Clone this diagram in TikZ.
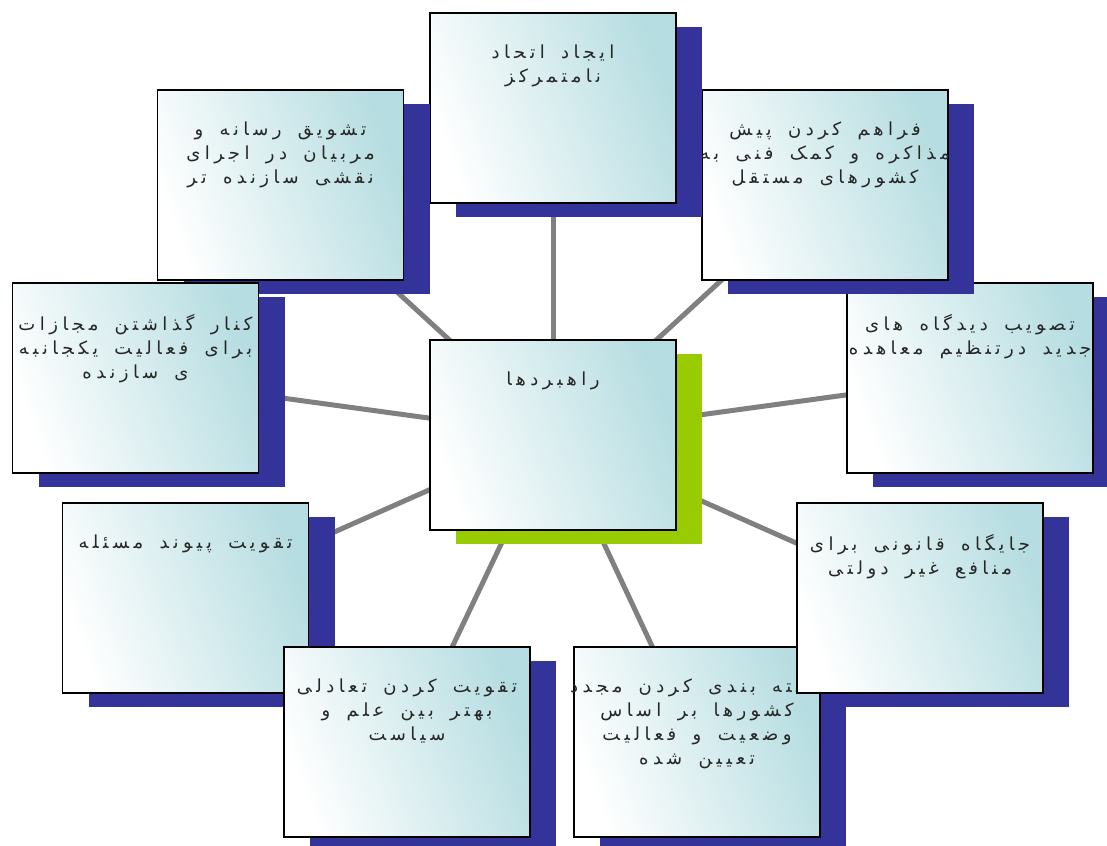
\documentclass[tikz,border=0pt]{standalone}
\usepackage{fontspec}
\newfontfamily\farsi[Script=Arabic,LetterSpace=25,WordSpace=1.6]{DejaVu Sans}
\TeXXeTstate=1
\usetikzlibrary{positioning,shadows,backgrounds}
\definecolor{shadowblue}{HTML}{333399}
\definecolor{shadowgreen}{HTML}{99CC00}
\definecolor{boxteal}{HTML}{B6DDE1}
\definecolor{linkgray}{HTML}{808080}
\newcommand{\fa}[1]{\beginR #1\endR}
\tikzstyle{cardbase} = [draw,line width=1.5pt,minimum width=246pt,minimum height=190pt,inner sep=0,top color=boxteal,bottom color=white,shading angle=-70]
\tikzstyle{card} = [cardbase,drop shadow={shadow xshift=26pt,shadow yshift=-14pt,fill=shadowblue,opacity=1}]
\tikzstyle{hub} = [cardbase,drop shadow={shadow xshift=26pt,shadow yshift=-14pt,fill=shadowgreen,opacity=1}]
\tikzstyle{caption} = [align=center,inner sep=0,text=black!85,font=\farsi\fontsize{18}{24}\selectfont]
\tikzstyle{link} = [linkgray,line width=5pt]

\begin{document}
\begin{tikzpicture}[x=1pt,y=-1pt]
    \useasboundingbox (0,0) rectangle (1107,845);

    \node [hub] (v0) at (553,435) {};
    \node [caption,below=32pt of v0.north] (t0) {\fa{راهبردها}};

    \node [card] (v3) at (970,378) {};
    \node [caption,below=32pt of v3.north] (t3) {\fa{تصویب دیدگاه های}\\\fa{جدید درتنظیم معاهده}};

    \node [card] (v2) at (825,185) {};
    \node [caption,below=32pt of v2.north] (t2) {\fa{فراهم کردن پیش}\\\fa{مذاکره و کمک فنی به}\\\fa{کشورهای مستقل}};

    \node [card] (v1) at (553,108) {};
    \node [caption,below=32pt of v1.north] (t1) {\fa{ایجاد اتحاد}\\\fa{نامتمرکز}};

    \node [card] (v9) at (280.5,185) {};
    \node [caption,below=32pt of v9.north] (t9) {\fa{تشویق رسانه و}\\\fa{مربیان در اجرای}\\\fa{نقشی سازنده تر}};

    \node [card] (v8) at (135.5,378) {};
    \node [caption,below=32pt of v8.north] (t8) {\fa{کنار گذاشتن مجازات}\\\fa{برای فعالیت یکجانبه}\\\fa{ی سازنده}};

    \node [card] (v7) at (185.5,598) {};
    \node [caption,below=32pt of v7.north] (t7) {\fa{تقویت پیوند مسئله}};

    \node [card] (v6) at (407,742) {};
    \node [caption,below=32pt of v6.north] (t6) {\fa{تقویت کردن تعادلی}\\\fa{بهتر بین علم و}\\\fa{سیاست}};

    \node [card] (v5) at (697,742) {};
    \node [caption,below=32pt of v5.north] (t5) {\fa{دسته بندی کردن مجدد}\\\fa{کشورها بر اساس}\\\fa{وضعیت و فعالیت}\\\fa{تعیین شده}};

    \node [card] (v4) at (920,598) {};
    \node [caption,below=32pt of v4.north] (t4) {\fa{جایگاه قانونی برای}\\\fa{منافع غیر دولتی}};

    \begin{scope}[on background layer]
      \foreach \i in {1,...,9}
        \draw [link] (v0.center) -- (v\i.center);
    \end{scope}
\end{tikzpicture}
\end{document}
